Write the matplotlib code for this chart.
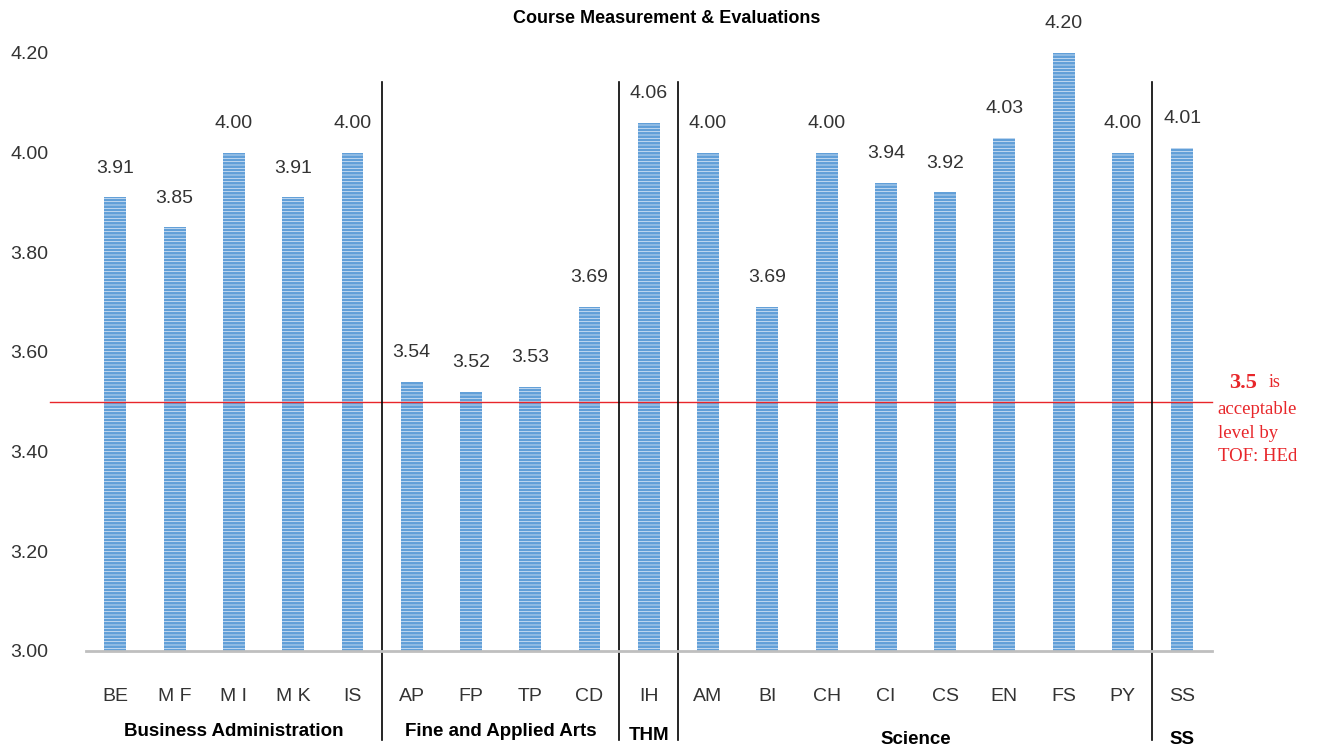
import matplotlib.pyplot as plt
import matplotlib.transforms as mtransforms

# data
courses = ["BE", "M F", "M I", "M K", "IS", "AP", "FP", "TP", "CD", "IH",
           "AM", "BI", "CH", "CI", "CS", "EN", "FS", "PY", "SS"]
scores = [3.91, 3.85, 4.00, 3.91, 4.00, 3.54, 3.52, 3.53, 3.69, 4.06,
          4.00, 3.69, 4.00, 3.94, 3.92, 4.03, 4.20, 4.00, 4.01]
groups = ["Business Administration", "Fine and Applied Arts", "THM", "Science", "SS"]
group_sizes = [5, 4, 1, 8, 1]
accept_level = 3.5
yticks = [3.00, 3.20, 3.40, 3.60, 3.80, 4.00, 4.20]

plt.rcParams['font.family'] = ['Liberation Sans', 'DejaVu Sans']

fig = plt.figure(figsize=(13.2, 7.48), dpi=100)
ax = fig.add_axes([0.065, 0.1297, 0.853, 0.7995])

x = list(range(len(courses)))
# blue bars with thin light horizontal stripes
plt.rcParams['hatch.linewidth'] = 0.5
ax.bar(x, scores, width=0.37, color='#619FD8', edgecolor='#E4EEF9',
       linewidth=0, hatch='-----')

for xi, v in zip(x, scores):
    ax.annotate("%.2f" % v, (xi, v), xytext=(0, 15), textcoords='offset points',
                ha='center', va='bottom', fontsize=14, color='#333333')

ax.set_xlim(-0.5, len(courses) - 0.5)
ax.set_ylim(3.0, 4.2)
ax.set_yticks(yticks)
ax.set_yticklabels(["%.2f" % t for t in yticks], fontsize=14, color='#333333')
ax.set_xticks(x)
ax.set_xticklabels(courses, fontsize=14, color='#333333')
ax.tick_params(axis='both', length=0)
ax.tick_params(axis='y', pad=27)
ax.tick_params(axis='x', pad=27)
for s in ['top', 'right', 'left']:
    ax.spines[s].set_visible(False)
ax.spines['bottom'].set_color('#BFBFBF')
ax.spines['bottom'].set_linewidth(2)

# acceptable level line
trans = mtransforms.blended_transform_factory(ax.transAxes, ax.transData)
ax.plot([-0.032, 1.0], [accept_level, accept_level], color='#E8262A',
        linewidth=1, transform=trans, clip_on=False)

# group separators and labels
trans_x = mtransforms.blended_transform_factory(ax.transData, ax.transAxes)
start = 0
label_y = [-0.135, -0.135, -0.142, -0.148, -0.148]
for i, (g, n) in enumerate(zip(groups, group_sizes)):
    center = start + (n - 1) / 2
    ax.text(center, label_y[i], g, transform=trans_x, ha='center', va='center',
            fontsize=13.5, fontweight='bold', color='black')
    start += n
    if start < len(courses):
        ax.plot([start - 0.5, start - 0.5], [0.951, -0.149], color='black',
                linewidth=1.2, transform=trans_x, clip_on=False)

# title
fig.text(0.505, 0.975, "Course Measurement & Evaluations", ha='center', va='center',
         fontsize=13, fontweight='bold')

# red note
red = '#E8262A'
fig.text(0.931, 0.488, "3.5", fontsize=16, fontweight='bold', color=red,
         family='Liberation Serif', va='center')
fig.text(0.961, 0.488, "is", fontsize=13, color=red,
         family='Liberation Serif', va='center')
fig.text(0.9225, 0.452, "acceptable", fontsize=13.5, color=red,
         family='Liberation Serif', va='center')
fig.text(0.9225, 0.421, "level by", fontsize=13.5, color=red,
         family='Liberation Serif', va='center')
fig.text(0.9225, 0.390, "TOF: HEd", fontsize=13.5, color=red,
         family='Liberation Serif', va='center')

plt.savefig('out.png', dpi=100)
